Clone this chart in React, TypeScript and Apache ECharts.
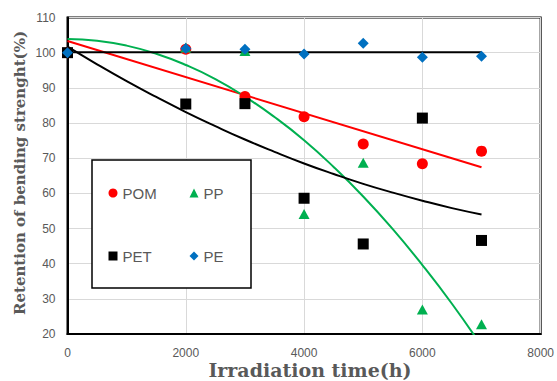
import React, { useEffect, useRef } from "react";
import * as echarts from "echarts";

const hours = [0, 2000, 3000, 4000, 5000, 6000, 7000];
const pom = [100, 101, 87.5, 81.8, 74, 68.4, 72];
const pp = [100, 101.5, 100.5, 54.1, 68.7, 27, 22.8];
const pet = [100, 85.4, 85.5, 58.6, 45.6, 81.4, 46.6];
const pe = [100, 101.2, 101, 99.6, 102.7, 98.7, 99];

// trendlines
const trendX = [0, 500, 1000, 1500, 2000, 2500, 3000, 3500, 4000, 4500, 5000, 5500, 6000, 6500, 7000];
const ppTrend = [103.9, 103.4, 102.0, 99.7, 96.5, 92.5, 87.5, 81.7, 75.1, 67.5, 59.1, 49.8, 39.6, 28.6, 16.6];
const petTrend = [101.7, 96.7, 91.9, 87.4, 83.1, 79.1, 75.3, 71.8, 68.5, 65.5, 62.7, 60.2, 57.9, 55.8, 54.0];
const pomTrendX = [0, 7000];
const pomTrend = [103.3, 67.4];
const peTrendX = [0, 7000];
const peTrend = [100.1, 100.1];

const xTicks = { min: 0, max: 8000, interval: 2000 };
const yTicks = { min: 20, max: 110, interval: 10 };

const zip = (xs: number[], ys: number[]) => xs.map((x, i) => [x, ys[i]]);

export default function App() {
  const ref = useRef<HTMLDivElement>(null);
  useEffect(() => {
    if (!ref.current) return;
    const chart = echarts.init(ref.current, undefined, { renderer: "svg" });
    const gray = "#595959";
    const sans = "Liberation Sans";
    const legendCommon = {
      orient: "horizontal" as const,
      itemWidth: 9,
      itemHeight: 9,
      itemGap: 0,
      padding: 0,
      textStyle: { color: gray, fontSize: 15, fontFamily: sans, lineHeight: 18 },
      selectedMode: false,
    };
    chart.setOption({
      animation: false,
      backgroundColor: "#fff",
      grid: {
        left: 67.5,
        right: 14,
        top: 17.5,
        bottom: 47,
        show: true,
        borderColor: "#000",
        borderWidth: 2,
      },
      xAxis: {
        type: "value",
        ...xTicks,
        axisLine: { show: true, lineStyle: { color: "#000", width: 2 } },
        axisTick: { show: false },
        axisLabel: {
          color: gray,
          fontSize: 12,
          fontFamily: sans,
          margin: 13,
          formatter: (v: number) => String(v),
        },
        splitLine: { show: true, lineStyle: { color: "#d9d9d9", width: 1 } },
      },
      yAxis: {
        type: "value",
        ...yTicks,
        axisLine: { show: true, lineStyle: { color: "#000", width: 2 } },
        axisTick: { show: false },
        axisLabel: { color: gray, fontSize: 12, fontFamily: sans, margin: 12 },
        splitLine: { show: true, lineStyle: { color: "#d9d9d9", width: 1 } },
      },
      legend: [
        { ...legendCommon, data: [{ name: "POM", icon: "circle" }], left: 108.5, top: 184 },
        { ...legendCommon, data: [{ name: "PP", icon: "triangle" }], left: 189.5, top: 184 },
        { ...legendCommon, data: [{ name: "PET", icon: "rect" }], left: 108.5, top: 247 },
        { ...legendCommon, data: [{ name: "PE", icon: "diamond" }], left: 189.5, top: 247 },
      ],
      graphic: [
        {
          type: "rect",
          z: 3,
          shape: { x: 92, y: 160, width: 159, height: 128 },
          style: { fill: "#fff", stroke: "#000", lineWidth: 1.5 },
        },
        {
          type: "text",
          x: 310,
          y: 370,
          style: {
            text: "Irradiation time(h)",
            fill: gray,
            font: "bold 19px 'DejaVu Serif'",
            lineHeight: 20,
            textAlign: "center",
            textVerticalAlign: "middle",
          },
        },
        {
          type: "text",
          x: 20,
          y: 173,
          rotation: Math.PI / 2,
          style: {
            text: "Retention of bending strenght(%)",
            fill: gray,
            font: "bold 15px 'DejaVu Serif'",
            textAlign: "center",
            textVerticalAlign: "middle",
          },
        },
      ],
      series: [
        {
          name: "POM trend",
          type: "line",
          data: zip(pomTrendX, pomTrend),
          showSymbol: false,
          lineStyle: { color: "#ff0000", width: 2 },
          z: 2,
        },
        {
          name: "PP trend",
          type: "line",
          data: zip(trendX, ppTrend),
          smooth: true,
          showSymbol: false,
          clip: true,
          lineStyle: { color: "#00b050", width: 2 },
          z: 2,
        },
        {
          name: "PET trend",
          type: "line",
          data: zip(trendX, petTrend),
          smooth: true,
          showSymbol: false,
          lineStyle: { color: "#000000", width: 2 },
          z: 2,
        },
        {
          name: "PE trend",
          type: "line",
          data: zip(peTrendX, peTrend),
          showSymbol: false,
          lineStyle: { color: "#000000", width: 2 },
          z: 2,
        },
        {
          name: "POM",
          type: "scatter",
          data: zip(hours, pom),
          symbol: "circle",
          symbolSize: 11,
          itemStyle: { color: "#ff0000", opacity: 1 },
          z: 3,
        },
        {
          name: "PP",
          type: "scatter",
          data: zip(hours, pp),
          symbol: "triangle",
          symbolSize: [11, 10],
          itemStyle: { color: "#00b050", opacity: 1 },
          z: 3,
        },
        {
          name: "PET",
          type: "scatter",
          data: zip(hours, pet),
          symbol: "rect",
          symbolSize: 11,
          itemStyle: { color: "#000000", opacity: 1 },
          z: 3,
        },
        {
          name: "PE",
          type: "scatter",
          data: zip(hours, pe),
          symbol: "diamond",
          symbolSize: [11, 11],
          itemStyle: { color: "#0070c0", opacity: 1 },
          z: 3,
        },
      ],
    });
    return () => chart.dispose();
  }, []);
  return (
    <div
      ref={ref}
      style={{ position: "fixed", left: 0, top: 0, width: 557, height: 381 }}
    />
  );
}
